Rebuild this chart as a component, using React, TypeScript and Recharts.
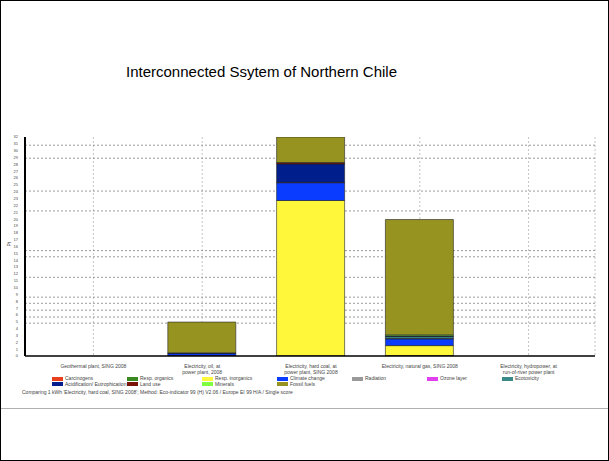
import React from "react";
import { BarChart, Bar, XAxis, YAxis, CartesianGrid } from "recharts";

const categories = [
  "Geothermal plant, SING 2008",
  "Electricity, oil, at|power plant, 2008",
  "Electricity, hard coal, at|power plant, SING 2008",
  "Electricity, natural gas, SING 2008",
  "Electricity, hydropower, at|run-of-river power plant",
];

const seriesNames = [
  "Carcinogens",
  "Resp. organics",
  "Resp. inorganics",
  "Climate change",
  "Radiation",
  "Ozone layer",
  "Ecotoxicity",
  "Acidification/ Eutrophication",
  "Land use",
  "Minerals",
  "Fossil fuels",
];

const seriesColors = [
  "#e8401c",
  "#3a8a22",
  "#fff83a",
  "#0a3cff",
  "#999999",
  "#e040f0",
  "#3a8a8a",
  "#001e8c",
  "#7a1408",
  "#80ff40",
  "#969320",
];

const carcinogens = [0, 0.01, 0.02, 0.02, 0];
const respOrganics = [0, 0, 0, 0.05, 0];
const respInorganics = [0, 0.05, 22.7, 1.45, 0];
const climateChange = [0, 0.3, 2.6, 1.0, 0];
const radiation = [0, 0, 0, 0, 0];
const ozoneLayer = [0, 0, 0.05, 0.02, 0];
const ecotoxicity = [0, 0, 0, 0.3, 0];
const acidification = [0, 0.1, 2.7, 0.1, 0];
const landUse = [0, 0, 0.2, 0, 0];
const minerals = [0, 0, 0, 0.15, 0];
const fossilFuels = [0, 4.5, 3.8, 16.85, 0];

const seriesValues = [
  carcinogens,
  respOrganics,
  respInorganics,
  climateChange,
  radiation,
  ozoneLayer,
  ecotoxicity,
  acidification,
  landUse,
  minerals,
  fossilFuels,
];

const yTicks = Array.from({ length: 33 }, (_, i) => i);
const gridValues = [30.8, 28.9, 24.1, 21.2, 15.4, 14.5, 11.5, 8.6, 7.7, 6.7, 5.7, 4.8];

const title = "Interconnected Ssytem of Northern Chile";
const footer =
  "Comparing 1 kWh 'Electricity, hard coal, SING 2008'; Method: Eco-indicator 99 (H) V2.06 / Europe EI 99 H/A / Single score";

const data = categories.map((c, i) => {
  const row: Record<string, any> = { name: c };
  seriesNames.forEach((s, k) => {
    row["s" + k] = seriesValues[k][i];
  });
  return row;
});

const FONT = "'Liberation Sans', Arial, sans-serif";

const CatTick = (props: any) => {
  const { x, y, payload } = props;
  const lines = String(payload.value).split("|");
  return (
    <text x={x} y={y + 4} textAnchor="middle" fontSize={5} fill="#444" fontFamily={FONT}>
      {lines.map((l, i) => (
        <tspan key={i} x={x} dy={i === 0 ? 0 : 6}>
          {l}
        </tspan>
      ))}
    </text>
  );
};

export default function App() {
  return (
    <div
      style={{
        position: "absolute",
        left: 0,
        top: 0,
        width: 609,
        height: 461,
        background: "#fff",
        boxSizing: "border-box",
        border: "1px solid #000",
        fontFamily: FONT,
        overflow: "hidden",
      }}
    >
      <div
        style={{
          position: "absolute",
          left: 0,
          width: 521,
          top: 62,
          textAlign: "center",
          fontSize: 15,
          color: "#000",
        }}
      >
        {title}
      </div>
      <div style={{ position: "absolute", left: -1, top: -1 }}>
        <BarChart
          width={609}
          height={461}
          data={data}
          margin={{ top: 137, right: 14, left: 15, bottom: 85 }}
          barSize={68}
        >
          <CartesianGrid
            horizontal={false}
            vertical={true}
            stroke="#c4c4c4"
            strokeDasharray="2 2"
          />
          <CartesianGrid
            horizontalValues={gridValues}
            vertical={false}
            stroke="#9a9a9a"
            strokeDasharray="2 2"
          />
          <XAxis
            dataKey="name"
            height={20}
            padding={{ left: 14, right: 12 }}
            tick={<CatTick />}
            tickLine={false}
            interval={0}
            stroke="#000"
            strokeWidth={1.5}
          />
          <YAxis
            width={10}
            domain={[0, 32]}
            ticks={yTicks}
            allowDataOverflow
            interval={0}
            tick={{ fontSize: 4, fill: "#444", fontFamily: FONT }}
            tickLine={false}
            tickMargin={1}
            stroke="#000"
            strokeWidth={2}
            label={{ value: "Pt", angle: -90, position: "insideLeft", fontSize: 5, offset: -6, fill: "#444" }}
          />
          <YAxis
            yAxisId="r"
            orientation="right"
            width={0}
            tick={false}
            tickLine={false}
            stroke="#999"
            strokeWidth={1.5}
          />
          {seriesNames.map((s, k) => (
            <Bar
              key={s}
              dataKey={"s" + k}
              name={s}
              stackId="a"
              fill={seriesColors[k]}
              stroke="#222"
              strokeWidth={0.6}
              isAnimationActive={false}
            />
          ))}
        </BarChart>
      </div>
      {seriesNames.map((s, k) => {
        const row = k < 7 ? 0 : 1;
        const col = k < 7 ? k : k - 7;
        return (
          <div
            key={s}
            style={{
              position: "absolute",
              left: 51 + col * 75,
              top: 375 + row * 5.5,
              display: "flex",
              alignItems: "center",
              fontSize: 5,
              color: "#444",
              whiteSpace: "nowrap",
              lineHeight: "5px",
            }}
          >
            <span
              style={{
                display: "inline-block",
                width: 11,
                height: 4,
                background: seriesColors[k],
                marginRight: 2,
              }}
            />
            {s}
          </div>
        );
      })}
      <div
        style={{
          position: "absolute",
          left: 21,
          top: 388,
          fontSize: 5,
          color: "#444",
          whiteSpace: "nowrap",
        }}
      >
        {footer}
      </div>
      <div
        style={{
          position: "absolute",
          left: 0,
          top: 407,
          width: 609,
          height: 1,
          background: "#b0b0b0",
        }}
      />
    </div>
  );
}
